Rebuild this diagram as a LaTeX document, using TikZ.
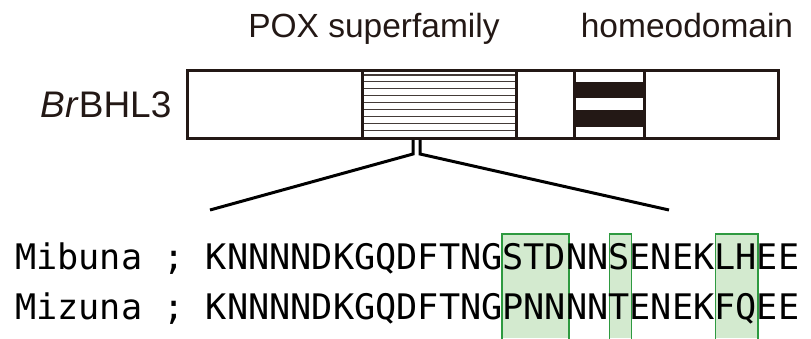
\documentclass[tikz,border=0pt]{standalone}
\usepackage{fontspec}
\setmainfont{Liberation Sans}
\newfontfamily\seqfont{DejaVu Sans Mono}
\definecolor{ink}{HTML}{231815}
\definecolor{hlfill}{HTML}{D3EACF}
\definecolor{hledge}{HTML}{2E9A40}
\tikzset{
  frameline/.style={draw=ink, line width=3pt},
  hatchline/.style={draw=ink!85, line width=1.1pt},
  band/.style={fill=ink},
  zoomline/.style={draw=black, line width=3pt, line join=miter},
  hlbox/.style={fill=hlfill},
  hledgeline/.style={draw=hledge, line width=1.6pt},
  domlabel/.style={inner sep=0pt, text=ink, font=\fontsize{33.5}{40}\selectfont},
  genelabel/.style={inner sep=0pt, text=ink, font=\fontsize{37}{44}\selectfont},
  seqline/.style={inner sep=0pt, text=black, font=\seqfont\fontsize{35.2}{42}\selectfont\frenchspacing},
}
\begin{document}
\begin{tikzpicture}[x=1pt, y=-1pt]
\useasboundingbox (0,0) rectangle (811,338);

% domain labels
\node[domlabel, anchor=base] (poxlabel) at (374,37) {POX superfamily};
\node[domlabel, anchor=base] (hdlabel) at (687,37) {homeodomain};
\node[genelabel, anchor=base] (gene) at (106,117) {\textit{Br}BHL3};

% POX hatching
\foreach \k in {0,...,8}
  \draw[hatchline] (363,75+6.9*\k) -- (516,75+6.9*\k);

% homeodomain stripes
\fill[band] (574,81.7) rectangle (644,98.3);
\fill[band] (574,110) rectangle (644,126.7);

% protein bar and domain borders
\draw[frameline] (187.5,70) rectangle (778,138.3);
\foreach \xd in {362.7,516,574,644.3}
  \draw[frameline] (\xd,70) -- (\xd,138.3);

% zoom lines from the POX domain to the alignment
\coordinate (stemL) at (413,139.8);
\coordinate (stemR) at (420,139.8);
\coordinate (bendL) at (413,154);
\coordinate (bendR) at (420,154);
\coordinate (alnL) at (210,210);
\coordinate (alnR) at (669,210);
\draw[zoomline] (stemL) -- (bendL) -- (alnL);
\draw[zoomline] (stemR) -- (bendR) -- (alnR);

% highlighted alignment columns
\foreach \xa/\xb in {502/569, 609.5/631.5, 715.5/758}{
  \fill[hlbox] (\xa,234) rectangle (\xb,338);
  \draw[hledgeline] (\xa,339) -- (\xa,234) -- (\xb,234) -- (\xb,339);
}

% aligned sequences
\node[seqline, anchor=base west] (mibuna) at (15,269) {Mibuna ; KNNNNDKGQDFTNGSTDNNSENEKLHEE};
\node[seqline, anchor=base west] (mizuna) at (15,319) {Mizuna ; KNNNNDKGQDFTNGPNNNNTENEKFQEE};
\end{tikzpicture}
\end{document}
